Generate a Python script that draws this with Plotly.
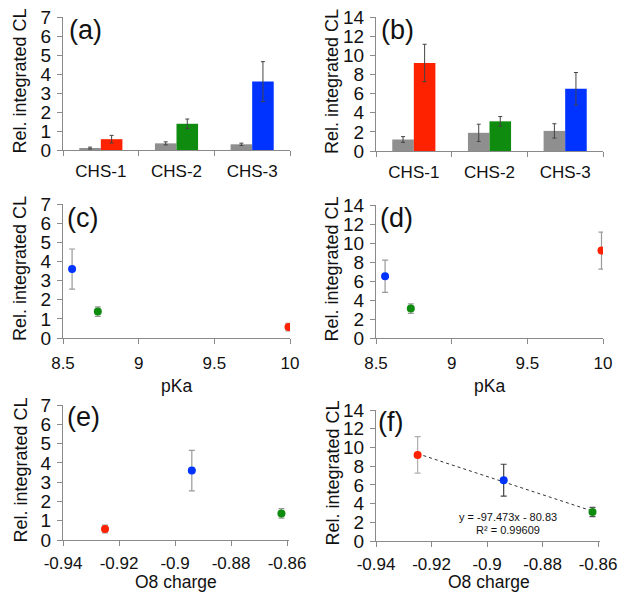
import plotly.graph_objects as go

# page body has an 8px margin, so the figure is shifted; compensate
OFF = 8
W, H = 626 - OFF, 600 - 2 * OFF

# ---------------- data ----------------
compounds = ["CHS-1", "CHS-2", "CHS-3"]
colors = ["#ff2200", "#0f8c0f", "#0033ff"]
gray_color = "#8f8f8f"

# panel (a)
a_gray = [0.10, 0.35, 0.30]
a_gray_err = [0.05, 0.08, 0.06]
a_col = [0.57, 1.38, 3.60]
a_col_err = [0.20, 0.25, 1.05]

# panel (b)
b_gray = [1.2, 1.9, 2.1]
b_gray_err = [0.30, 0.90, 0.75]
b_col = [9.2, 3.1, 6.5]
b_col_err = [1.95, 0.50, 1.70]

# x variables
pka = [9.99, 8.73, 8.56]
o8_charge = [-0.925, -0.862, -0.894]

# regression shown in (f)
fit_slope = -97.473
fit_intercept = -80.83
fit_r2 = 0.99609

left_ticks = [0, 1, 2, 3, 4, 5, 6, 7]
right_ticks = [0, 2, 4, 6, 8, 10, 12, 14]
pka_ticks = [8.5, 9, 9.5, 10]
charge_ticks = [-0.94, -0.92, -0.9, -0.88, -0.86]
charge_tick_text = ["-0.94", "-0.92", "-0.9", "-0.88", "-0.86"]

FONT = "Liberation Sans, Arial, sans-serif"
TXT = "#111111"
AX = "#8a8a8a"
FS_Y = 19
FS_X = 17

fig = go.Figure()

def px(x):
    return (x - OFF) / W

def py(y):
    return 1 - (y - OFF) / H

# domains in screen pixels: (x0, x1, ytop, ybottom)
panels = {
    "a": (63, 290, 17, 150),
    "b": (376, 603, 17, 151),
    "c": (63, 290, 204, 338),
    "d": (376, 603, 205, 338),
    "e": (63, 289, 405, 540),
    "f": (376, 600, 410, 541),
}
order = ["a", "b", "c", "d", "e", "f"]

def axis_common():
    return dict(showgrid=False, zeroline=False, showline=True, linecolor=AX,
                linewidth=1, ticks="outside", tickcolor=AX, ticklen=5, tickwidth=1,
                automargin=False, ticklabeloverflow="allow")

layout = {}
for i, k in enumerate(order):
    n = "" if i == 0 else str(i + 1)
    x0, x1, yt, yb = panels[k]
    xa = axis_common()
    xa.update(domain=[px(x0), px(x1)], anchor="y" + n,
              tickfont=dict(family=FONT, size=FS_X, color=TXT))
    ya = axis_common()
    ya.update(domain=[py(yb), py(yt)], anchor="x" + n,
              tickfont=dict(family=FONT, size=FS_Y, color=TXT))
    left = k in ("a", "c", "e")
    ya.update(range=[0, 7] if left else [0, 14],
              tickvals=left_ticks if left else right_ticks, ticklabelstandoff=2)
    if k in ("a", "b"):
        xa.update(type="category", tickson="boundaries", range=[-0.5, 2.5],
                  ticklabelstandoff=6)
    elif k in ("c", "d"):
        xa.update(range=[8.5, 10.0], tickvals=pka_ticks, ticktext=["8.5", "9", "9.5", "10"],
                  ticklabelstandoff=5)
    else:
        xa.update(range=[-0.94, -0.8593], tickvals=charge_ticks, ticktext=charge_tick_text,
                  ticklabelstandoff=3)
    layout["xaxis" + n] = xa
    layout["yaxis" + n] = ya

# bar panels
for k, n, g, ge, c, ce in [("a", "", a_gray, a_gray_err, a_col, a_col_err),
                           ("b", "2", b_gray, b_gray_err, b_col, b_col_err)]:
    fig.add_trace(go.Bar(x=compounds, y=g, marker=dict(color=gray_color, line_width=0),
                         error_y=dict(type="data", array=ge, color="#444", thickness=1, width=2),
                         xaxis="x" + n, yaxis="y" + n, showlegend=False))
    fig.add_trace(go.Bar(x=compounds, y=c, marker=dict(color=colors, line_width=0),
                         error_y=dict(type="data", array=ce, color="#444", thickness=1, width=2),
                         xaxis="x" + n, yaxis="y" + n, showlegend=False))

# scatter panels
scatter_defs = [
    ("3", pka, a_col, a_col_err, ["#9a9a9a"] * 3),
    ("4", pka, b_col, b_col_err, ["#9a9a9a"] * 3),
    ("5", o8_charge, a_col, a_col_err, ["#9a9a9a"] * 3),
    ("6", o8_charge, b_col, b_col_err, ["#b0b0b0", "#555555", "#444444"]),
]
for n, xs, ys, es, ecols in scatter_defs:
    if n == "6":
        xs_fit = [min(xs), max(xs)]
        ys_fit = [fit_slope * v + fit_intercept for v in xs_fit]
        fig.add_trace(go.Scatter(x=xs_fit, y=ys_fit, mode="lines",
                                 line=dict(color="#333333", width=1, dash="dot"),
                                 xaxis="x" + n, yaxis="y" + n, showlegend=False))
    for j in range(3):
        fig.add_trace(go.Scatter(x=[xs[j]], y=[ys[j]], mode="markers",
                                 marker=dict(color=colors[j], size=8),
                                 error_y=dict(type="data", array=[es[j]], color=ecols[j],
                                              thickness=1.2, width=3),
                                 xaxis="x" + n, yaxis="y" + n, showlegend=False))

annotations = []
# panel labels
label_pos = {"a": (67, 30), "b": (379, 30), "c": (65, 218), "d": (378, 218),
             "e": (65, 417), "f": (376, 422)}
for k in order:
    x, y = label_pos[k]
    annotations.append(dict(text="(" + k + ")", x=px(x), y=py(y), xref="paper", yref="paper",
                            xanchor="left", yanchor="middle", showarrow=False,
                            font=dict(family=FONT, size=27, color=TXT)))
# y titles
for k in order:
    x0, x1, yt, yb = panels[k]
    tx = 20 if x0 < 300 else 332
    annotations.append(dict(text="Rel. integrated CL", x=px(tx), y=py((yt + yb) / 2 - 2),
                            xref="paper", yref="paper", textangle=-90, showarrow=False,
                            xanchor="center", yanchor="middle",
                            font=dict(family=FONT, size=18, color=TXT)))
# x titles
for x, y, t in [(176, 386, "pKa"), (489, 386, "pKa"), (176, 582, "O8 charge"), (489, 582, "O8 charge")]:
    annotations.append(dict(text=t, x=px(x), y=py(y), xref="paper", yref="paper",
                            showarrow=False, xanchor="center", yanchor="middle",
                            font=dict(family=FONT, size=17.5, color=TXT)))
# regression text
annotations.append(dict(text="y = -97.473x - 80.83", x=px(508), y=py(517), xref="paper", yref="paper",
                        showarrow=False, xanchor="center", yanchor="middle",
                        font=dict(family=FONT, size=11, color=TXT)))
annotations.append(dict(text="R² = " + str(fit_r2), x=px(508), y=py(530), xref="paper", yref="paper",
                        showarrow=False, xanchor="center", yanchor="middle",
                        font=dict(family=FONT, size=11, color=TXT)))

fig.update_layout(width=W, height=H, margin=dict(l=0, r=0, t=0, b=0, autoexpand=False),
                  plot_bgcolor="white", paper_bgcolor="white",
                  barmode="group", bargap=0.43, bargroupgap=0,
                  annotations=annotations, **layout)

fig.write_html("out.html")
